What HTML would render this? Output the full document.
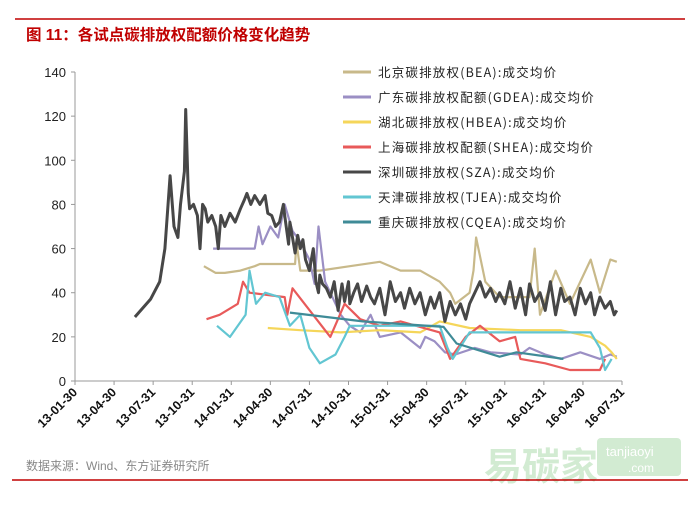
<!DOCTYPE html>
<html><head><meta charset="utf-8"><style>
body{margin:0;background:#fff;width:700px;height:501px;overflow:hidden;font-family:"Liberation Sans","Noto Sans CJK SC",sans-serif}
</style></head><body>
<svg width="700" height="501" xmlns="http://www.w3.org/2000/svg">
<line x1="15" y1="19" x2="685" y2="19" stroke="#c00000" stroke-width="1.5"/>
<text x="26" y="40" font-size="15.5" font-weight="bold" fill="#c00000" font-family="Liberation Sans, Noto Sans CJK SC, sans-serif">图 11：各试点碳排放权配额价格变化趋势</text>
<g id="axes"></g>
<g id="series"></g>
<g id="legend"></g>
<text x="26" y="470" font-size="12" fill="#888" font-family="Liberation Sans, Noto Sans CJK SC, sans-serif">数据来源：Wind、东方证券研究所</text>
<g opacity="0.35">
<text x="484" y="480" font-size="38" font-weight="bold" fill="#7fc77f" font-family="Noto Sans CJK SC, sans-serif">易碳家</text>
<rect x="597" y="438" width="84" height="38" rx="4" fill="#7fc77f"/>
<text x="606" y="456" font-size="13" fill="#fff">tanjiaoyi</text>
<text x="628" y="472" font-size="12" fill="#fff">.com</text>
</g>
<line x1="12" y1="480" x2="688" y2="480" stroke="#c00000" stroke-width="1.5"/>
</svg>
<script>
const NS="http://www.w3.org/2000/svg";
const xTicks=["13-01-30","13-04-30","13-07-31","13-10-31","14-01-31","14-04-30","14-07-31","14-10-31","15-01-31","15-04-30","15-07-31","15-10-31","16-01-31","16-04-30","16-07-31"];
const yTicks=[0,20,40,60,80,100,120,140];
const seriesNames=["北京碳排放权(BEA):成交均价","广东碳排放权配额(GDEA):成交均价","湖北碳排放权(HBEA):成交均价","上海碳排放权配额(SHEA):成交均价","深圳碳排放权(SZA):成交均价","天津碳排放权(TJEA):成交均价","重庆碳排放权(CQEA):成交均价"];
const seriesKeys=["bea","gdea","hbea","shea","sza","tjea","cqea"];
const colors=["#c8b98a","#9b8fc4","#f5d65a","#e85a5a","#474747","#62c6d2","#3f8b97"];
const beaT=[9.9,10.8,11.5,12.7,13.8,14.2,15.7,16.9,17.0,17.3,18.8,21.1,23.4,25.0,26.5,28.0,28.8,29.2,30.3,30.6,30.8,31.5,32.6,34.9,35.3,35.7,36.9,38.0,39.6,40.3,41.1,41.6];
const beaV=[52,49,49,50,52,53,53,53,63,50,50,52,54,50,50,45,40,35,40,50,65,45,38,38,60,30,50,35,55,40,55,54];
const gdeaT=[10.6,13.8,14.1,14.4,15.0,15.6,16.1,16.7,17.3,18.0,18.4,18.7,19.2,19.6,20.4,21.1,21.9,22.7,23.4,25.0,26.5,26.9,27.6,28.4,29.2,30.7,31.9,34.2,34.9,36.1,37.3,38.8,40.3,41.1,41.6];
const gdeaV=[60,60,70,62,70,65,80,68,63,55,44,70,45,40,30,25,22,30,20,22,15,20,18,13,12,15,13,12,15,12,10,13,10,12,11];
const hbeaT=[14.8,17.3,20.4,23.4,26.5,28.0,30.3,34.2,37.3,39.6,40.7,41.2,41.6];
const hbeaV=[24,23,22,23,22,27,24,23,23,20,16,13,10];
const sheaT=[10.1,11.1,12.5,12.9,13.4,16.1,16.3,16.7,19.6,20.7,21.9,23.4,25.0,28.0,28.8,30.0,31.1,32.6,33.8,34.2,36.1,38.0,40.3,40.7];
const sheaV=[28,30,35,45,40,38,30,42,20,35,28,25,27,22,10,20,25,18,20,10,8,5,5,10];
const szaT=[4.6,5.8,6.5,6.9,7.3,7.6,7.9,8.1,8.4,8.5,8.7,8.8,9.1,9.4,9.6,9.8,10.0,10.2,10.5,10.8,11.0,11.2,11.5,11.9,12.3,12.7,13.0,13.2,13.5,13.8,14.2,14.6,14.8,15.1,15.4,15.7,16.0,16.1,16.4,16.5,16.7,16.9,17.1,17.3,17.5,17.7,18.0,18.3,18.5,18.7,18.8,19.0,19.3,19.6,19.9,20.2,20.5,20.7,21.0,21.1,21.4,21.7,22.0,22.4,22.7,23.0,23.4,23.8,24.2,24.6,25.0,25.3,25.7,26.1,26.5,26.9,27.3,27.6,28.0,28.4,28.8,29.2,29.6,30.0,30.3,30.7,31.1,31.5,31.9,32.3,32.6,33.0,33.4,33.8,34.2,34.6,34.9,35.3,35.7,36.1,36.5,36.9,37.3,37.6,38.0,38.4,38.8,39.2,39.6,39.9,40.3,40.7,41.1,41.4,41.6];
const szaV=[29,37,45,60,93,70,65,80,95,123,85,78,80,75,60,80,78,72,75,70,60,75,70,76,72,78,82,85,80,84,80,84,76,75,70,72,80,75,62,72,65,58,66,60,64,55,50,60,45,40,48,44,42,38,45,32,44,36,45,35,40,44,36,43,38,35,42,30,45,36,40,33,42,35,40,30,38,33,40,27,36,30,35,28,35,40,45,38,42,36,40,35,45,33,42,30,44,36,40,32,45,30,42,36,38,30,42,35,40,30,38,33,36,30,32];
const tjeaT=[10.9,11.9,13.1,13.4,13.9,14.6,15.7,16.5,17.3,18.0,18.8,20.0,20.7,21.1,25.0,28.0,28.6,29.0,30.3,39.6,40.3,40.7,41.2];
const tjeaV=[25,20,30,50,35,40,38,25,30,15,8,12,20,25,25,25,15,10,22,22,15,5,10];
const cqeaT=[16.5,22.1,28.3,29.3,32.6,33.9,37.5];
const cqeaV=[31,27,24.5,17,11,13,10];
const allT=[beaT,gdeaT,hbeaT,sheaT,szaT,tjeaT,cqeaT];
const allV=[beaV,gdeaV,hbeaV,sheaV,szaV,tjeaV,cqeaV];

const X0=75,X1=622,Y0=381,Y1=72,TMAX=42,VMAX=140;
const xs=t=>X0+t*(X1-X0)/TMAX;
const ys=v=>Y0-v*(Y0-Y1)/VMAX;
function mk(tag,attrs,parent){const e=document.createElementNS(NS,tag);for(const k in attrs)e.setAttribute(k,attrs[k]);parent.appendChild(e);return e;}
const ax=document.getElementById('axes');
let yl=mk('line',{x1:X0,y1:Y1,x2:X0,y2:Y0,stroke:'#999'},ax);


let xl=mk('line',{x1:X0,y1:Y0,x2:X1,y2:Y0,stroke:'#999'},ax);


yTicks.forEach(v=>{
  mk('line',{x1:X0-4,y1:ys(v),x2:X0,y2:ys(v),stroke:'#999'},ax);
  const t=mk('text',{x:X0-9,y:ys(v)+5,'text-anchor':'end','font-size':'13',fill:'#222'},ax);
  t.textContent=v;
  
  
});
xTicks.forEach((lab,i)=>{
  const x=xs(i*3);
  mk('line',{x1:x,y1:Y0,x2:x,y2:Y0+4,stroke:'#999'},ax);
  const t=mk('text',{x:x+3,y:Y0+12,'text-anchor':'end','font-size':'12.5','font-weight':'bold',fill:'#111',transform:`rotate(-45 ${x+3} ${Y0+12})`},ax);
  t.textContent=lab;
  
  
});
const sg=document.getElementById('series');
const order=[0,1,2,3,5,6,4];
order.forEach(i=>{
  const T=allT[i],V=allV[i];const n=Math.min(T.length,V.length);
  let d='';for(let k=0;k<n;k++)d+=(k?'L':'M')+xs(T[k]).toFixed(1)+','+ys(V[k]).toFixed(1);
  const p=mk('path',{d:d,fill:'none',stroke:colors[i],'stroke-width':i==4?3:2.2,'stroke-linejoin':'round'},sg);
  
  
});
const lg=document.getElementById('legend');
seriesNames.forEach((nm,i)=>{
  const y=72+i*25;
  const g=mk('g',{},lg);
  
  
  mk('line',{x1:343,y1:y,x2:371,y2:y,stroke:colors[i],'stroke-width':3},g);
  const t=mk('text',{x:378,y:y+5,'font-size':'12.5',fill:'#222','letter-spacing':'1.2','font-family':'Noto Sans CJK SC, sans-serif'},g);
  t.textContent=nm;
});
</script>
</body></html>
